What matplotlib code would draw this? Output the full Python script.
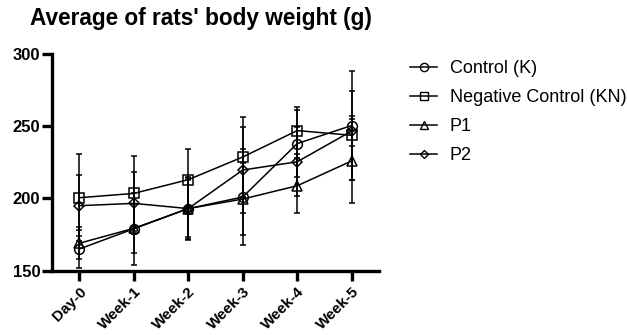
import matplotlib
matplotlib.use("Agg")
import matplotlib.pyplot as plt
import matplotlib.transforms as mtransforms
from matplotlib.lines import Line2D

plt.rcParams['font.family'] = ['Liberation Sans', 'DejaVu Sans']

categories = ["Day-0", "Week-1", "Week-2", "Week-3", "Week-4", "Week-5"]
series_names = ["Control (K)", "Negative Control (KN)", "P1", "P2"]
control = [165, 179, 193, 201, 238, 250.5]
control_sd = [13, 25, 21, 33, 23, 38]
neg_control = [200.5, 203.5, 213, 228.7, 247, 243.7]
neg_control_sd = [30, 26, 21.5, 28, 16, 31]
p1 = [169, 179.3, 193, 199.6, 208.8, 226]
p1_sd = [11, 17, 20, 25, 19, 29]
p2 = [195, 196.6, 193, 219.7, 225.4, 246.7]
p2_sd = [21, 21.4, 22, 30, 24, 10.5]
yticks = [150, 200, 250, 300]

values = [control, neg_control, p1, p2]
sds = [control_sd, neg_control_sd, p1_sd, p2_sd]
markers = ['o', 's', '^', 'D']
msizes = [7, 7, 7, 5]

fig = plt.figure(figsize=(6.27, 3.35), dpi=100)
ax = fig.add_axes([52/627, 1-270.7/335, (379-52)/627, (270.7-54)/335])

x = list(range(len(categories)))
for vals, sd, m, ms in zip(values, sds, markers, msizes):
    ax.errorbar(x, vals, yerr=sd, fmt='-', color='black', lw=1.1, elinewidth=1.1,
                capsize=2.5, capthick=1.1, marker=m, markersize=ms,
                markerfacecolor='none', markeredgecolor='black', markeredgewidth=1.1)

ax.set_xlim(-0.5, 5.5)
ax.set_ylim(150, 300)
ax.set_yticks(yticks)
ax.set_yticklabels([str(v) for v in yticks], fontweight='bold', fontsize=12)
ax.set_xticks(x)
ax.set_xticklabels(categories, rotation=45, ha='right', rotation_mode='anchor',
                   fontweight='bold', fontsize=11)
offset = mtransforms.ScaledTranslation(-3/100, 0, fig.dpi_scale_trans)
for lab in ax.get_xticklabels():
    lab.set_transform(lab.get_transform() + offset)
for s in ['top', 'right']:
    ax.spines[s].set_visible(False)
for s in ['left', 'bottom']:
    ax.spines[s].set_linewidth(2.4)
ax.tick_params(axis='both', direction='out', length=7, width=2.4)
ax.tick_params(axis='y', pad=1.5)
ax.tick_params(axis='x', pad=3)

handles = [Line2D([0], [0], color='black', lw=1.1, marker=m, markersize=ms*0.85,
                  markerfacecolor='none', markeredgecolor='black')
           for m, ms in zip(markers, msizes)]
fig.legend(handles, series_names, loc='upper left', bbox_to_anchor=(410/627, 1-60/335),
           frameon=False, fontsize=13, handlelength=1.5, handletextpad=0.7,
           labelspacing=0.67, borderaxespad=0, borderpad=0)

fig.text(30/627, 1-19/335, "Average of rats' body weight (g)", fontsize=16.3,
         fontweight='bold', ha='left', va='center')

fig.savefig('out.png', dpi=100)
